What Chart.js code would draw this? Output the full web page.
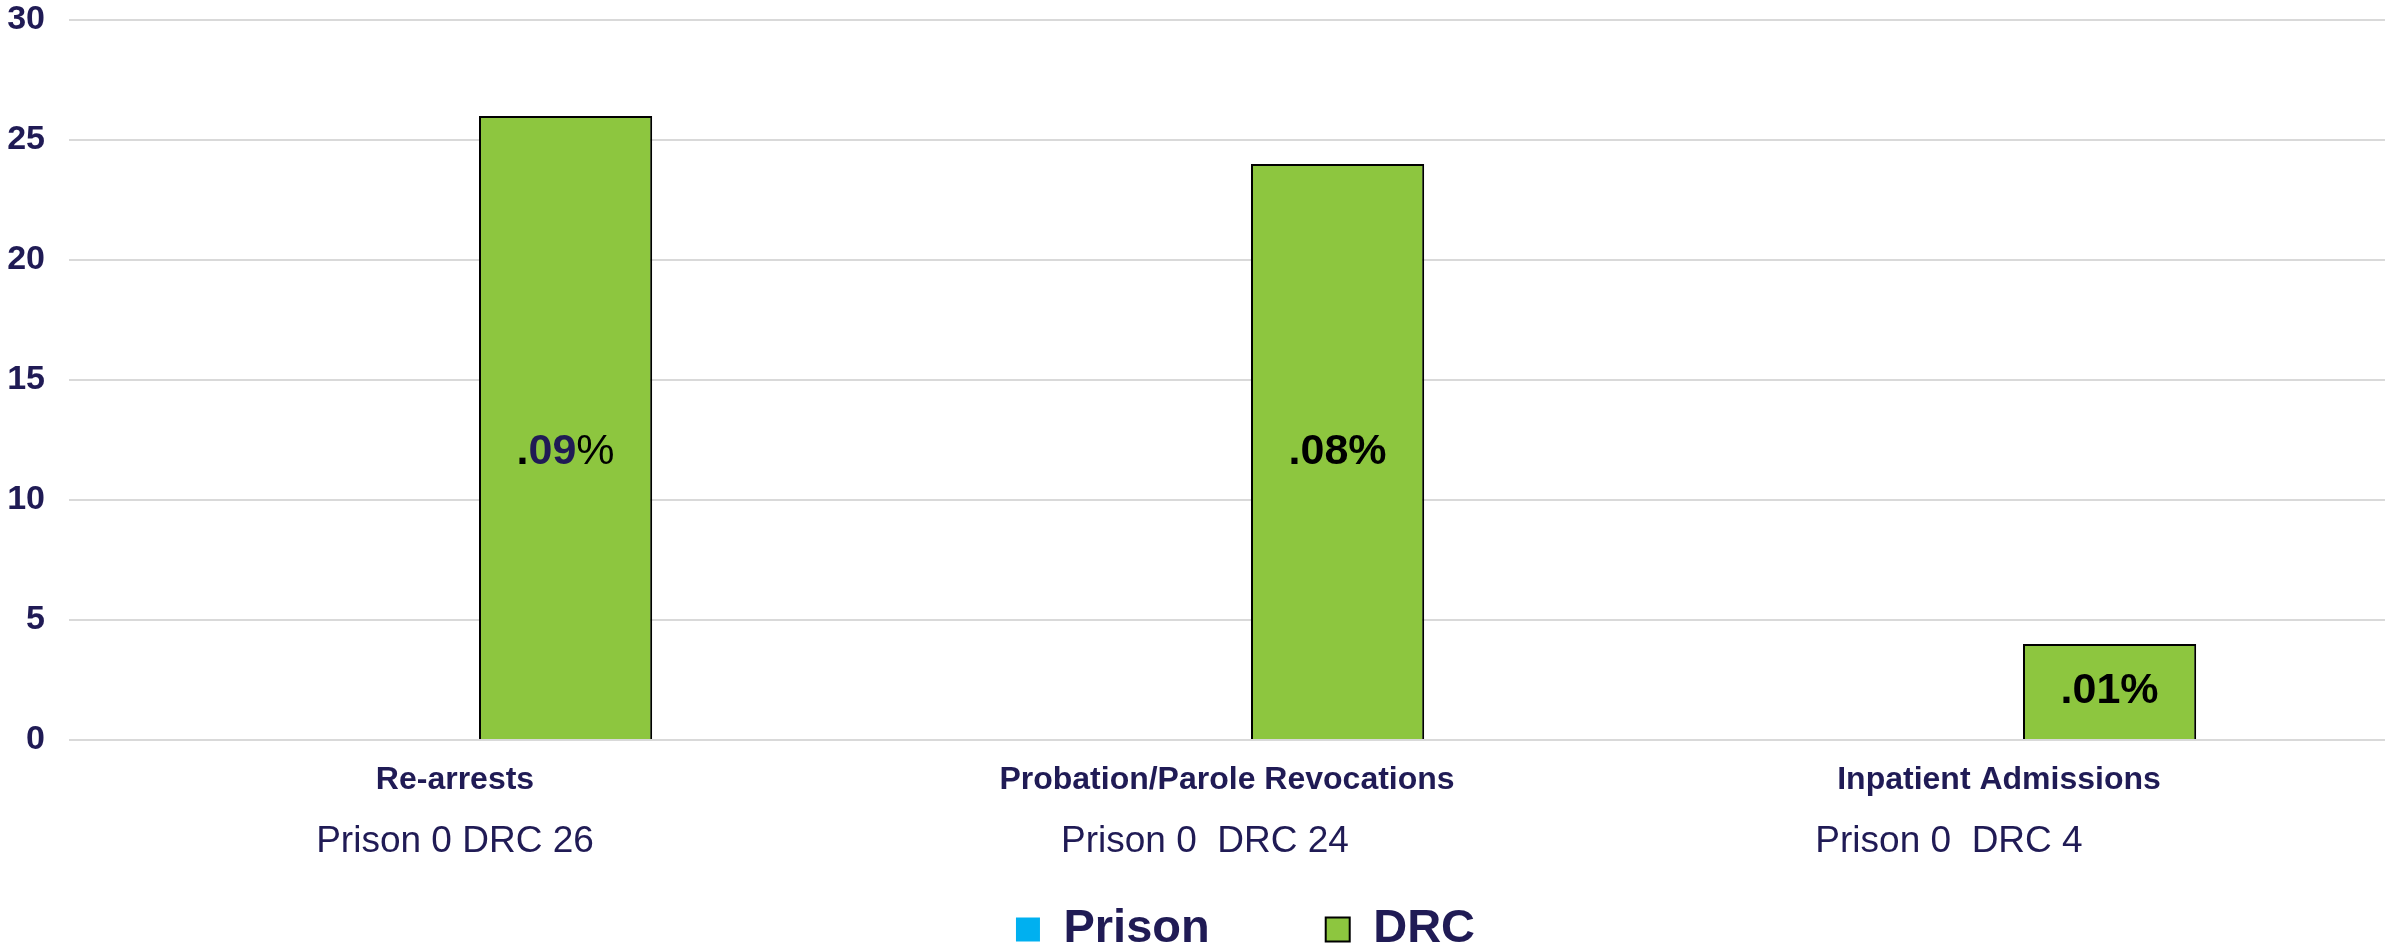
<!DOCTYPE html>
<html>
<head>
<meta charset="utf-8">
<script src="https://cdn.jsdelivr.net/npm/chart.js@4"></script>
<style>
  html, body { margin: 0; padding: 0; background: #fff; }
  #wrap { width: 2385px; height: 951px; position: relative; }
</style>
</head>
<body>
<div id="wrap"><canvas id="outcomeChart"></canvas></div>
<script>
const categories = ["Re-arrests", "Probation/Parole Revocations", "Inpatient Admissions"];
const subLabels = ["Prison 0 DRC 26", "Prison 0  DRC 24", "Prison 0  DRC 4"];
const prisonValues = [0, 0, 0];
const drcValues = [26, 24, 4];
const percentLabels = [".09%", ".08%", ".01%"];
const yTicks = [0, 5, 10, 15, 20, 25, 30];

const navy = "#201b55";
Chart.defaults.font.family = "'Liberation Sans', Arial, sans-serif";
Chart.defaults.color = navy;

// second line under each category, regular weight
// (the text boxes in the original sit a bit left of centre)
const subLabelPlugin = {
  id: "subLabels",
  afterDraw(chart) {
    const ctx = chart.ctx;
    const xs = chart.scales.x;
    const nudge = [0, -22, -50];
    ctx.save();
    ctx.font = "37px 'Liberation Sans', Arial, sans-serif";
    ctx.fillStyle = navy;
    ctx.textAlign = "center";
    ctx.textBaseline = "middle";
    subLabels.forEach((t, i) => {
      ctx.fillText(t, xs.getPixelForValue(i) + nudge[i], chart.chartArea.bottom + 102);
    });
    ctx.restore();
  }
};

// percentage text inside the DRC bars
const percentPlugin = {
  id: "percentLabels",
  afterDatasetsDraw(chart) {
    const ctx = chart.ctx;
    const ys = chart.scales.y;
    const meta = chart.getDatasetMeta(1);
    ctx.save();
    ctx.textBaseline = "middle";
    ctx.textAlign = "left";
    meta.data.forEach((bar, i) => {
      const txt = percentLabels[i];
      let parts;
      if (i === 0) {
        // first label is mixed in the original
        parts = [
          { t: txt.slice(0, 1), f: "bold 43px 'Liberation Sans', Arial", c: "#000" },
          { t: txt.slice(1, 3), f: "bold 43px 'Liberation Sans', Arial", c: navy },
          { t: txt.slice(3), f: "43px 'Liberation Sans', Arial", c: "#000" }
        ];
      } else {
        parts = [{ t: txt, f: "bold 43px 'Liberation Sans', Arial", c: "#000" }];
      }
      let total = 0;
      parts.forEach(p => { ctx.font = p.f; p.w = ctx.measureText(p.t).width; total += p.w; });
      let x = bar.x - total / 2;
      // middle of the bar, but never higher than the 12 line
      const y = Math.max((bar.y + bar.base) / 2, ys.getPixelForValue(12));
      parts.forEach(p => {
        ctx.font = p.f;
        ctx.fillStyle = p.c;
        ctx.fillText(p.t, x, y);
        x += p.w;
      });
    });
    ctx.restore();
  }
};

// move the legend row down and a little right, like the original
const legendShift = {
  id: "legendShift",
  afterLayout(chart) {
    const lg = chart.legend;
    lg.left += 53;
    lg.right += 53;
    lg.top = chart.chartArea.bottom + 50;
    lg.bottom = chart.height;
    lg.height = lg.bottom - lg.top;
  }
};

new Chart(document.getElementById("outcomeChart"), {
  type: "bar",
  data: {
    labels: categories,
    datasets: [
      {
        label: "Prison",
        data: prisonValues,
        backgroundColor: "#00b0f0",
        borderWidth: 0,
        categoryPercentage: 0.573,
        barPercentage: 0.783
      },
      {
        label: "DRC",
        data: drcValues,
        backgroundColor: "#8dc63f",
        borderColor: "#000",
        borderWidth: 2,
        categoryPercentage: 0.573,
        barPercentage: 0.783
      }
    ]
  },
  options: {
    responsive: true,
    maintainAspectRatio: false,
    animation: false,
    layout: { padding: { top: 20, left: 0, right: 0, bottom: 0 } },
    plugins: {
      tooltip: { enabled: false },
      legend: {
        position: "bottom",
        maxHeight: 100,
        labels: {
          boxWidth: 24,
          boxHeight: 24,
          padding: 116,
          color: navy,
          font: { size: 47, weight: "bold" }
        }
      }
    },
    scales: {
      x: {
        grid: { display: false },
        border: { display: false },
        ticks: {
          color: navy,
          padding: 13,
          maxRotation: 0,
          autoSkip: false,
          font: { size: 32, weight: "bold" }
        },
        afterFit(scale) { scale.height = 111; }
      },
      y: {
        min: 0,
        max: 30,
        afterBuildTicks(scale) { scale.ticks = yTicks.map(v => ({ value: v })); },
        grid: { color: "#d9d9d9", lineWidth: 2, drawTicks: false },
        border: { display: false },
        ticks: {
          color: navy,
          padding: 24,
          font: { size: 34, weight: "bold" }
        },
        afterFit(scale) {
          scale.width = 69;
          scale.paddingTop = 20;
          scale.paddingBottom = 20;
        }
      }
    }
  },
  plugins: [subLabelPlugin, percentPlugin, legendShift]
});
</script>
</body>
</html>
